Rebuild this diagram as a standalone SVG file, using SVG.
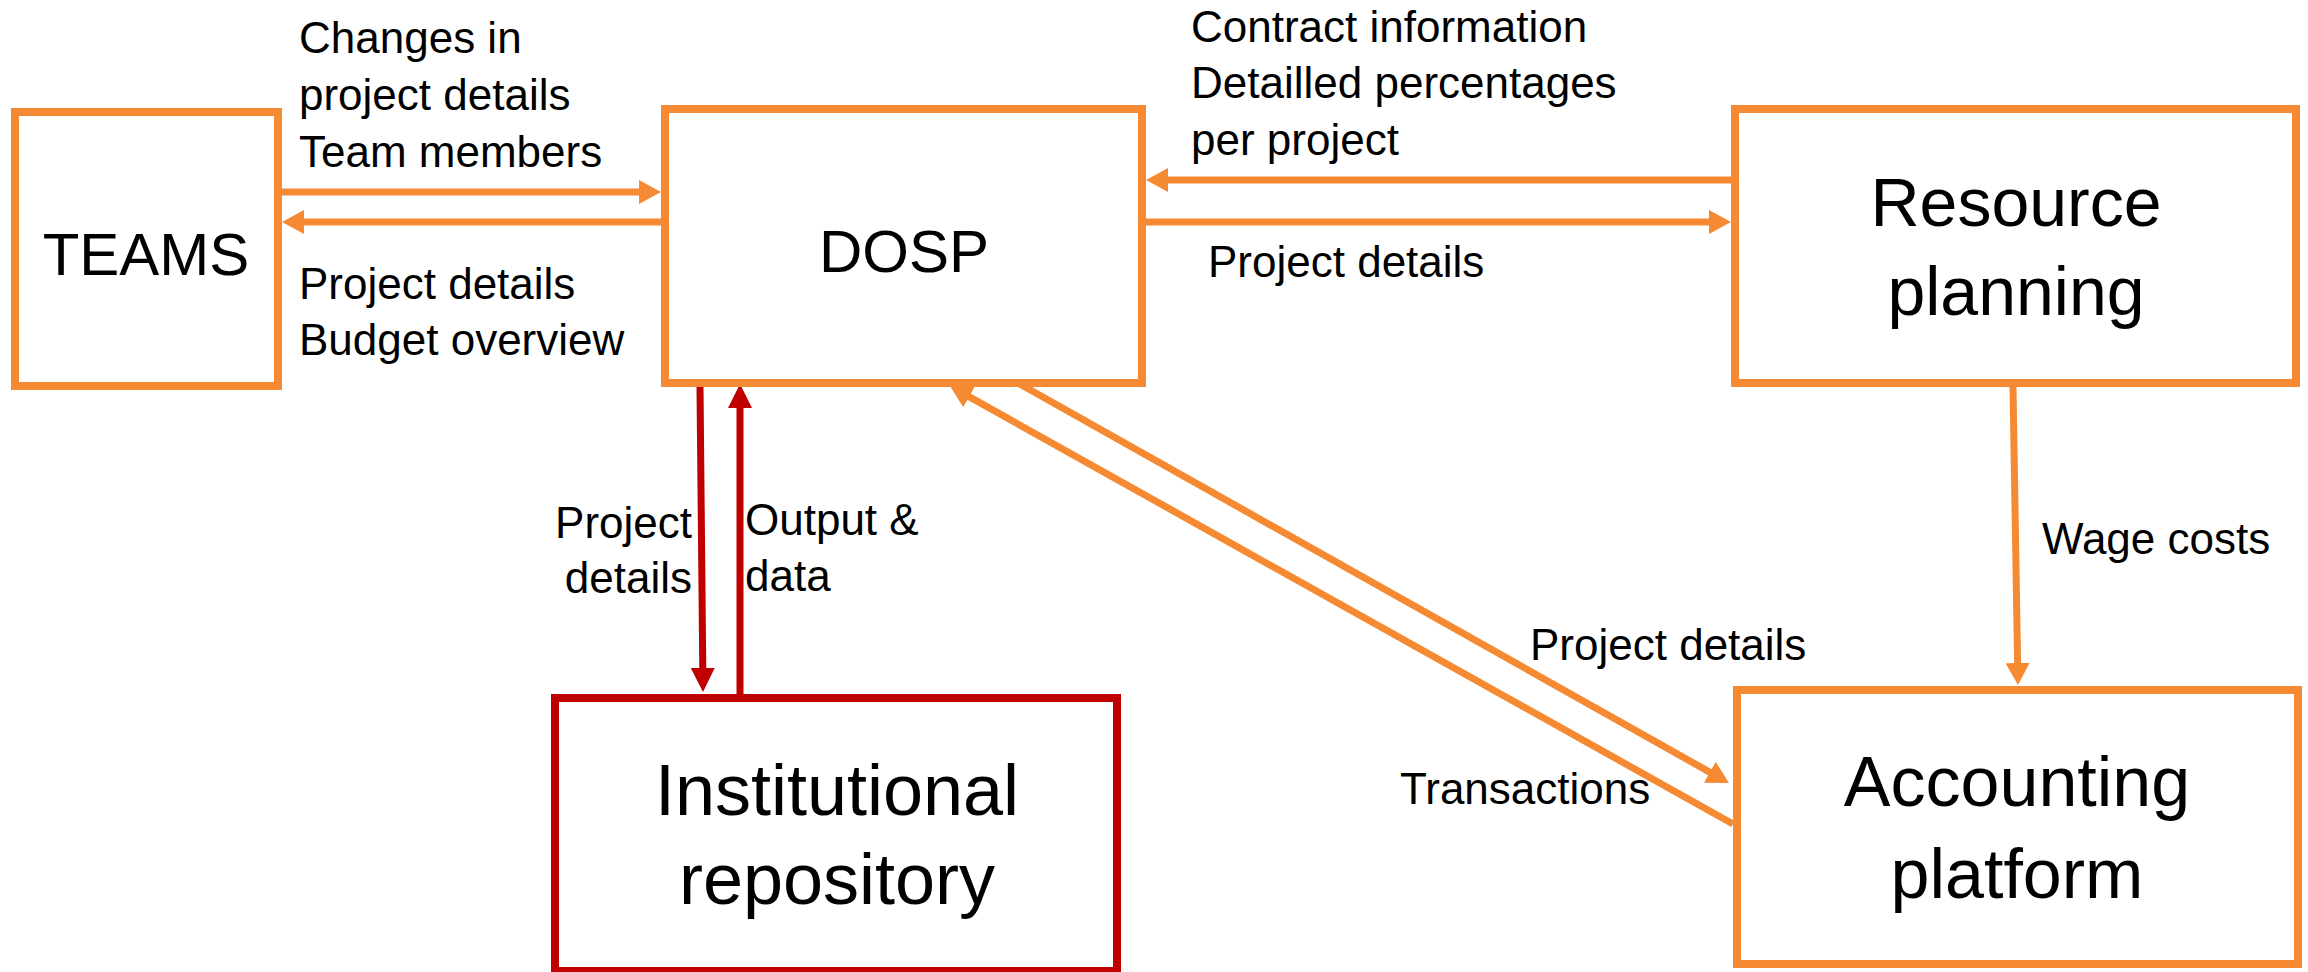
<svg xmlns="http://www.w3.org/2000/svg" width="2308" height="972" viewBox="0 0 2308 972">
  <style>
    .box { fill: #FFFFFF; stroke-width: 8; }
    .orange { stroke: #F58A33; }
    .red { stroke: #C00000; }
    .conn { fill: none; stroke-width: 7; stroke-linecap: butt; }
    .lbl { font-family: "Liberation Sans", Arial, sans-serif; font-size: 44px; fill: #000000; }
    .big { font-family: "Liberation Sans", Arial, sans-serif; fill: #000000; text-anchor: middle; }
  </style>
  <defs>
    <marker id="ahO" markerUnits="userSpaceOnUse" markerWidth="24" markerHeight="24" refX="12" refY="12" orient="auto" viewBox="0 0 24 24">
      <path d="M0,0 L22,12 L0,24 Z" fill="#F58A33"/>
    </marker>
    <marker id="ahR" markerUnits="userSpaceOnUse" markerWidth="26" markerHeight="26" refX="13" refY="12" orient="auto" viewBox="0 0 26 24">
      <path d="M0,0 L24,12 L0,24 Z" fill="#C00000"/>
    </marker>
  </defs>
  <rect width="2308" height="972" fill="#FFFFFF"/>

  <g id="connectors">
    <line class="conn orange" x1="282" y1="192" x2="651" y2="192" marker-end="url(#ahO)"/>
    <line class="conn orange" x1="661" y1="222" x2="292" y2="222" marker-end="url(#ahO)"/>
    <line class="conn orange" x1="1731" y1="180" x2="1156" y2="180" marker-end="url(#ahO)"/>
    <line class="conn orange" x1="1146" y1="222" x2="1721" y2="222" marker-end="url(#ahO)"/>
    <line class="conn red" x1="700" y1="387" x2="702.9" y2="681" marker-end="url(#ahR)"/>
    <line class="conn red" x1="740" y1="694" x2="740" y2="395" marker-end="url(#ahR)"/>
    <line class="conn orange" x1="2013" y1="387" x2="2017.8" y2="675" marker-end="url(#ahO)"/>
    <line class="conn orange" x1="1018" y1="383" x2="1720.3" y2="778.1" marker-end="url(#ahO)"/>
    <line class="conn orange" x1="1733" y1="824" x2="958.7" y2="390.9" marker-end="url(#ahO)"/>

    <text class="lbl" x="299" y="53">Changes in</text>
    <text class="lbl" x="299" y="110">project details</text>
    <text class="lbl" x="299" y="167">Team members</text>
    <text class="lbl" x="299" y="299">Project details</text>
    <text class="lbl" x="299" y="355">Budget overview</text>

    <text class="lbl" x="1191" y="42">Contract information</text>
    <text class="lbl" x="1191" y="98">Detailled percentages</text>
    <text class="lbl" x="1191" y="155">per project</text>
    <text class="lbl" x="1208" y="277">Project details</text>

    <text class="lbl" x="692" y="538" text-anchor="end">Project</text>
    <text class="lbl" x="692" y="593" text-anchor="end">details</text>
    <text class="lbl" x="745" y="535">Output &amp;</text>
    <text class="lbl" x="745" y="591">data</text>

    <text class="lbl" x="2042" y="554">Wage costs</text>
    <text class="lbl" x="1530" y="660">Project details</text>
    <text class="lbl" x="1400" y="804">Transactions</text>
  </g>

  <g id="teams">
    <rect class="box orange" x="15" y="112" width="263" height="274"/>
    <text class="big" x="146" y="275" font-size="60">TEAMS</text>
  </g>
  <g id="dosp">
    <rect class="box orange" x="665" y="109" width="477" height="274"/>
    <text class="big" x="904" y="272" font-size="60">DOSP</text>
  </g>
  <g id="resource-planning">
    <rect class="box orange" x="1735" y="109" width="561" height="274"/>
    <text class="big" x="2016" y="226" font-size="68">Resource</text>
    <text class="big" x="2016" y="315" font-size="68">planning</text>
  </g>
  <g id="institutional-repository">
    <rect class="box red" x="555" y="698" width="562" height="273"/>
    <text class="big" x="837" y="815" font-size="72">Institutional</text>
    <text class="big" x="837" y="904" font-size="72">repository</text>
  </g>
  <g id="accounting-platform">
    <rect class="box orange" x="1737" y="690" width="561" height="274"/>
    <text class="big" x="2017" y="806" font-size="70">Accounting</text>
    <text class="big" x="2017" y="898" font-size="70">platform</text>
  </g>
</svg>
